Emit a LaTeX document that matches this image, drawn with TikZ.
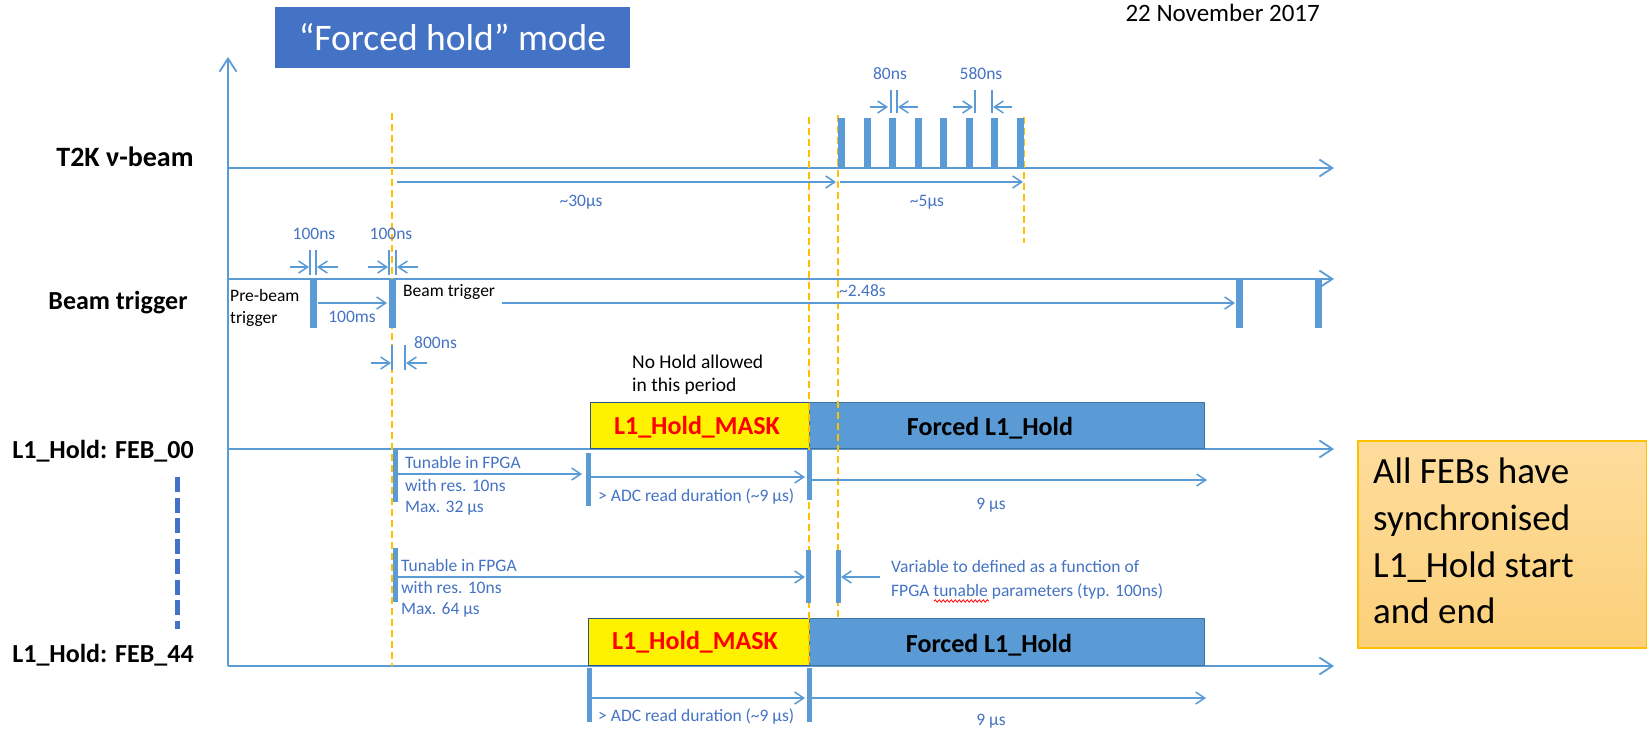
\documentclass[tikz,border=0pt]{standalone}
\usepackage{fontspec}
\setmainfont{Carlito}
\usetikzlibrary{arrows.meta,decorations.pathmorphing}

\definecolor{lineblue}{HTML}{5B9BD5}
\definecolor{titleblue}{HTML}{4472C4}
\definecolor{noteblue}{HTML}{4472C4}
\definecolor{markgold}{HTML}{FFC000}
\definecolor{maskedge}{HTML}{2F528F}
\definecolor{holdedge}{HTML}{41719C}
\definecolor{masktext}{HTML}{FF0000}
\definecolor{sumtop}{HTML}{FDDC9C}
\definecolor{sumbot}{HTML}{FCD07A}

\begin{document}
\begin{tikzpicture}[x=1pt,y=-1pt,
  sig/.style={draw=lineblue, line width=1.8pt, -{Straight Barb[length=13pt,width=17pt]}},
  dimarrow/.style={draw=lineblue, line width=1.5pt, -{Straight Barb[length=9pt,width=12pt]}},
  tickline/.style={draw=lineblue, line width=1.5pt},
  pulse/.style={fill=lineblue, inner sep=0pt, minimum width=7pt},
  holdbar/.style={fill=lineblue, inner sep=0pt, minimum width=5pt},
  marker/.style={draw=markgold, line width=1.6pt, dash pattern=on 7pt off 4pt},
  rowlabel/.style={font=\bfseries\fontsize{26}{30}\selectfont, inner sep=0pt},
  note/.style={text=noteblue, font=\fontsize{17.5}{20}\selectfont, inner sep=0pt, text height=12pt, text depth=3.5pt},
  blacknote/.style={note, text=black},
  maskbox/.style={fill=yellow, draw=maskedge, line width=1pt, inner sep=0pt, anchor=south west},
  holdbox/.style={fill=lineblue, draw=holdedge, line width=1pt, inner sep=0pt, anchor=south west},
  boxtext/.style={font=\bfseries\fontsize{26}{30}\selectfont, inner sep=0pt},
  sumtext/.style={font=\fontsize{37}{46}\selectfont, inner sep=0pt, anchor=base west}
]
\useasboundingbox (0,0) rectangle (1647,729);

% ---------- header ----------
\node[fill=titleblue, text=white, inner sep=0pt, minimum width=355pt, minimum height=61pt,
      font=\fontsize{37.5}{42}\selectfont] (title) at (452.5,37.5) {“Forced hold” mode};
\node[font=\fontsize{25}{30}\selectfont, inner sep=0pt, anchor=east] (date) at (1320,13) {22 November 2017};

% ---------- time axis and signal rows ----------
\coordinate (ax0) at (228,666);
\coordinate (axtop) at (228,57);
\draw[sig] (ax0) -- (axtop);
\foreach \n/\y in {t2k/168, bt/279, f00/449, f44/666} {
  \coordinate (\n-s) at (228,\y);
  \coordinate (\n-e) at (1334,\y);
  \draw[sig] (\n-s) -- (\n-e);
}

\node[rowlabel, font=\bfseries\fontsize{28}{32}\selectfont] (lt2k) at (125,157) {T2K ν-beam};
\node[rowlabel] (lbt) at (118,303) {Beam trigger};
\node[rowlabel] (lf00) at (103,451) {L1\_Hold: FEB\_00};
\node[rowlabel] (lf44) at (103,655) {L1\_Hold: FEB\_44};

% FEBs in between
\coordinate (feba) at (177,477);
\coordinate (febb) at (177,629);
\draw[draw=titleblue, line width=5pt, dash pattern=on 15pt off 5.5pt] (feba) -- (febb);

% ---------- hold windows ----------
\node[maskbox, minimum width=219pt, minimum height=46pt] (m00) at (590,449) {};
\node[holdbox, minimum width=395pt, minimum height=46pt] (h00) at (809,449) {};
\node[boxtext, text=masktext] (m00t) at (697,427) {L1\_Hold\_MASK};
\node[boxtext] (h00t) at (990,428) {Forced L1\_Hold};

\node[maskbox, minimum width=221pt, minimum height=47pt] (m44) at (588,666) {};
\node[holdbox, minimum width=395pt, minimum height=47pt] (h44) at (809,666) {};
\node[boxtext, text=masktext] (m44t) at (695,642) {L1\_Hold\_MASK};
\node[boxtext] (h44t) at (989,645) {Forced L1\_Hold};

\node[blacknote, font=\fontsize{19.5}{23}\selectfont, align=left, anchor=west, text height=, text depth=] (nohold) at (632,374.5)
  {No Hold allowed\\in this period};

% ---------- reference instants ----------
\coordinate (k1a) at (392,113);  \coordinate (k1b) at (392,666);
\coordinate (k2a) at (809,117);  \coordinate (k2b) at (809,666);
\coordinate (k3a) at (838,115);  \coordinate (k3b) at (838,619);
\coordinate (k4a) at (1024,117); \coordinate (k4b) at (1024,243);
\draw[marker] (k1a) -- (k1b);
\draw[marker] (k2a) -- (k2b);
\draw[marker] (k3a) -- (k3b);
\draw[marker] (k4a) -- (k4b);

% ---------- T2K neutrino beam spills ----------
\foreach \i in {0,...,7}
  \node[pulse, minimum height=50pt, anchor=south] (tp\i) at ({841.5+25.571*\i},168) {};

% bunch width
\coordinate (d80a) at (870,107);  \coordinate (d80b) at (888,107);
\coordinate (d80c) at (918,107);  \coordinate (d80d) at (898,107);
\draw[tickline] (891,90) -- (891,113);
\draw[tickline] (897,90) -- (897,113);
\draw[dimarrow] (d80a) -- (d80b);
\draw[dimarrow] (d80c) -- (d80d);
\node[note] (t80) at (890,75) {80ns};

% bunch spacing
\coordinate (d58a) at (953,107);  \coordinate (d58b) at (973,107);
\coordinate (d58c) at (1012,107); \coordinate (d58d) at (993,107);
\draw[tickline] (975,90) -- (975,113);
\draw[tickline] (992,90) -- (992,113);
\draw[dimarrow] (d58a) -- (d58b);
\draw[dimarrow] (d58c) -- (d58d);
\node[note] (t580) at (981,75) {580ns};

% delays
\coordinate (d30a) at (397,182);  \coordinate (d30b) at (836,182);
\draw[dimarrow] (d30a) -- (d30b);
\node[note] (t30) at (581,202) {\textasciitilde30μs};
\coordinate (d5a) at (840,182);   \coordinate (d5b) at (1023,182);
\draw[dimarrow] (d5a) -- (d5b);
\node[note] (t5) at (927,202) {\textasciitilde5μs};

% ---------- beam trigger ----------
\node[pulse, minimum height=49pt, anchor=north] (bt1) at (313,279) {};
\node[pulse, minimum height=49pt, anchor=north] (bt2) at (392,279) {};
\node[pulse, minimum height=49pt, anchor=north] (bt3) at (1239.5,279) {};
\node[pulse, minimum height=49pt, anchor=north] (bt4) at (1318.5,279) {};

\node[blacknote, align=left, anchor=west, text height=, text depth=, font=\fontsize{17.5}{22}\selectfont] (lpre) at (230,308) {Pre-beam\\trigger};
\node[blacknote, anchor=west] (lbeam) at (403,292) {Beam trigger};

\coordinate (d100a) at (318,303); \coordinate (d100b) at (387,303);
\draw[dimarrow] (d100a) -- (d100b);
\node[note] (t100ms) at (352,318) {100ms};

\coordinate (d248a) at (502,303); \coordinate (d248b) at (1235,303);
\draw[dimarrow] (d248a) -- (d248b);
\node[note, anchor=west] (t248) at (839,292) {\textasciitilde2.48s};

% trigger widths
\draw[tickline] (310,250) -- (310,275);
\draw[tickline] (316,250) -- (316,275);
\coordinate (w1a) at (290,267); \coordinate (w1b) at (309,267);
\coordinate (w1c) at (338,267); \coordinate (w1d) at (317,267);
\draw[dimarrow] (w1a) -- (w1b);
\draw[dimarrow] (w1c) -- (w1d);
\node[note] (tw1) at (314,235) {100ns};

\draw[tickline] (389,250) -- (389,275);
\draw[tickline] (396,250) -- (396,275);
\coordinate (w2a) at (368,267); \coordinate (w2b) at (388,267);
\coordinate (w2c) at (418,267); \coordinate (w2d) at (397,267);
\draw[dimarrow] (w2a) -- (w2b);
\draw[dimarrow] (w2c) -- (w2d);
\node[note] (tw2) at (391,235) {100ns};

\draw[tickline] (392,345) -- (392,370);
\draw[tickline] (405,345) -- (405,370);
\coordinate (w3a) at (371,363); \coordinate (w3b) at (391,363);
\coordinate (w3c) at (427,363); \coordinate (w3d) at (406,363);
\draw[dimarrow] (w3a) -- (w3b);
\draw[dimarrow] (w3c) -- (w3d);
\node[note, anchor=west] (t800) at (414,344) {800ns};

% ---------- FEB_00 ----------
\node[holdbar, minimum height=52pt, anchor=north] (a0) at (395,450) {};
\node[holdbar, minimum height=53pt, anchor=north] (a1) at (588.5,453) {};
\node[holdbar, minimum height=50pt, anchor=north] (a2) at (809,450) {};
\node[note, anchor=west] (n0a) at (405,464) {Tunable in FPGA};
\node[note, anchor=west] (n0b) at (405,487) {with res. 10ns};
\node[note, anchor=west] (n0c) at (405,508) {Max. 32 μs};
\coordinate (e0a) at (397,474);  \coordinate (e0b) at (582,474);
\draw[dimarrow] (e0a) -- (e0b);
\coordinate (e1a) at (591,477);  \coordinate (e1b) at (805,477);
\draw[dimarrow] (e1a) -- (e1b);
\node[note, anchor=west] (n0d) at (598,497) {> ADC read duration (\textasciitilde9 μs)};
\coordinate (e2a) at (811,480);  \coordinate (e2b) at (1207,480);
\draw[dimarrow] (e2a) -- (e2b);
\node[note] (n0e) at (991,505) {9 μs};

% ---------- FEB_44 ----------
\node[holdbar, minimum height=54pt, anchor=north] (b0) at (395,548) {};
\node[holdbar, minimum height=53pt, anchor=north] (b1) at (808,550) {};
\node[holdbar, minimum height=53pt, anchor=north] (b2) at (838,550) {};
\node[note, anchor=west] (n4a) at (401,567) {Tunable in FPGA};
\node[note, anchor=west] (n4b) at (401,589) {with res. 10ns};
\node[note, anchor=west] (n4c) at (401,610) {Max. 64 μs};
\coordinate (g0a) at (397,577);  \coordinate (g0b) at (805,577);
\draw[dimarrow] (g0a) -- (g0b);
\coordinate (g1a) at (880,577);  \coordinate (g1b) at (841,577);
\draw[dimarrow] (g1a) -- (g1b);
\node[note, anchor=west] (n4d) at (891,568) {Variable to defined as a function of};
\node[note, anchor=west] (n4e) at (891,592) {FPGA tunable parameters (typ. 100ns)};
\coordinate (sp0) at (934,601); \coordinate (sp1) at (989,601);
\draw[red, line width=0.8pt, decorate, decoration={snake, amplitude=1.2pt, segment length=4pt}] (sp0) -- (sp1);

\node[holdbar, minimum height=54pt, anchor=north] (c0) at (589,668) {};
\node[holdbar, minimum height=54pt, anchor=north] (c1) at (809,668) {};
\coordinate (h0a) at (591,698);  \coordinate (h0b) at (805,698);
\draw[dimarrow] (h0a) -- (h0b);
\coordinate (h1a) at (811,698);  \coordinate (h1b) at (1206,698);
\draw[dimarrow] (h1a) -- (h1b);
\node[note, anchor=west] (n4f) at (598,717) {> ADC read duration (\textasciitilde9 μs)};
\node[note] (n4g) at (991,721) {9 μs};

% ---------- summary ----------
\node[draw=markgold, line width=1.6pt, top color=sumtop, bottom color=sumbot, inner sep=0pt,
      minimum width=289pt, minimum height=207pt, anchor=north west] (summary) at (1357,440) {};
\node[sumtext] (s1) at (1373,483) {All FEBs have};
\node[sumtext] (s2) at (1373,530) {synchronised};
\node[sumtext] (s3) at (1373,577) {L1\_Hold start};
\node[sumtext] (s4) at (1373,623) {and end};
\end{tikzpicture}
\end{document}
